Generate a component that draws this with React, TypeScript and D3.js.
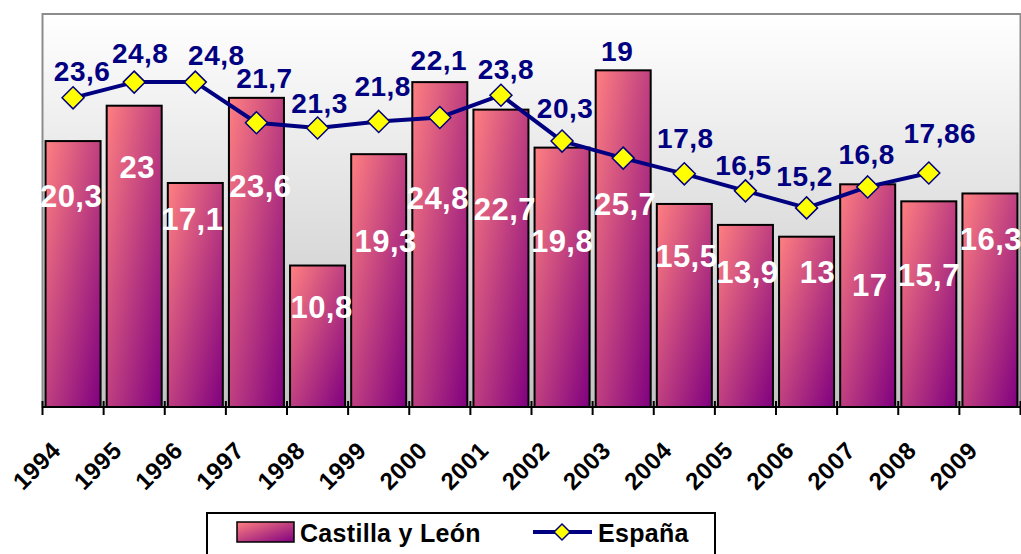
import * as d3 from "d3";

const years = ["1994", "1995", "1996", "1997", "1998", "1999", "2000", "2001", "2002", "2003", "2004", "2005", "2006", "2007", "2008", "2009"];
const castilla = [20.3, 23, 17.1, 23.6, 10.8, 19.3, 24.8, 22.7, 19.8, 25.7, 15.5, 13.9, 13, 17, 15.7, 16.3];
const espana = [23.6, 24.8, 24.8, 21.7, 21.3, 21.8, 22.1, 23.8, 20.3, 19, 17.8, 16.5, 15.2, 16.8, 17.86];

// label nudges (px) as they sit in the original chart
const barLabelDx = [-2, 3, -3, 4, 4, 7, -2, 4, 0, 2, 2, 2, 11, 2, 0, 1];
const barLabelDy = [66, 72, 47, 99, 52, 98, 127, 110, 104, 145, 63, 58, 46, 112, 85, 57];
const lineLabelDx = [9, 6, 21, 8, 2, 4, -1, 5, 3, -6, 1, -2, -2, -1, 11];
const lineLabelDy = [-17, -19, -17, -35, -15, -25, -47, -16, -23, -97, -26, -16, -22, -23, -30];

const W = 1021;
const H = 554;
const left = 42.5;
const right = 1020.5;
const top = 14;
const bottom = 407;
const font = "'Liberation Sans', Arial, sans-serif";
const navy = "#000080";

const fmt = (v: number) => String(v).replace(".", ",");

export default function App() {
  const x = d3.scaleBand<string>().domain(years).range([left, right]).paddingInner(0.1).paddingOuter(0.05);
  const y = d3.scaleLinear().domain([0, 30]).range([bottom, top]);
  const step = x.step();
  const bw = x.bandwidth();
  const cx = (d: string) => (x(d) as number) + bw / 2;

  const boundaries = years.map((d) => cx(d) - step / 2).concat([cx(years[years.length - 1]) + step / 2]);

  const line = d3
    .line<number>()
    .x((_, i) => cx(years[i]))
    .y((v) => y(v));

  const diamond = (px: number, py: number, r: number) =>
    `M${px},${py - r}L${px + r},${py}L${px},${py + r}L${px - r},${py}Z`;

  return (
    <svg width={W} height={H} style={{ position: "absolute", left: 0, top: 0 }} fontFamily={font}>
      <defs>
        <linearGradient id="bg" x1="0" y1="0" x2="0" y2="1">
          <stop offset="0" stopColor="#ffffff" />
          <stop offset="1" stopColor="#c2c2c2" />
        </linearGradient>
        <linearGradient id="bar" x1="0" y1="0" x2="1" y2="1">
          <stop offset="0" stopColor="#ff8080" />
          <stop offset="1" stopColor="#800080" />
        </linearGradient>
      </defs>
      <rect width={W} height={H} fill="#fff" />

      {/* plot area */}
      <rect x={left} y={top} width={right - left} height={bottom - top} fill="url(#bg)" stroke="#8c8c8c" strokeWidth={2} />

      {/* bars */}
      {castilla.map((v, i) => (
        <rect
          key={years[i]}
          x={x(years[i])}
          y={y(v)}
          width={bw}
          height={bottom - y(v)}
          fill="url(#bar)"
          stroke="#000"
          strokeWidth={2}
        />
      ))}

      {/* axis */}
      <line x1={left} x2={right} y1={bottom} y2={bottom} stroke="#000" strokeWidth={2} />
      {boundaries.map((b, i) => (
        <line key={i} x1={b} x2={b} y1={bottom - 6} y2={bottom + 8} stroke="#000" strokeWidth={2} />
      ))}
      {years.map((d) => (
        <text
          key={d}
          transform={`translate(${cx(d) - 11},${bottom + 45}) rotate(-45)`}
          textAnchor="end"
          fontSize={24}
          fontWeight="bold"
          letterSpacing={0.5}
          fill="#000"
        >
          {d}
        </text>
      ))}

      {/* bar labels */}
      {castilla.map((v, i) => (
        <text
          key={years[i]}
          x={cx(years[i]) + barLabelDx[i]}
          y={y(v) + barLabelDy[i]}
          textAnchor="middle"
          fontSize={31}
          fontWeight="bold"
          letterSpacing={0.5}
          fill="#fff"
        >
          {fmt(v)}
        </text>
      ))}

      {/* España line */}
      <path d={line(espana) ?? ""} fill="none" stroke={navy} strokeWidth={4} strokeLinejoin="round" />
      {espana.map((v, i) => (
        <path key={years[i]} d={diamond(cx(years[i]), y(v), 11)} fill="#ffff00" stroke={navy} strokeWidth={1.5} />
      ))}
      {espana.map((v, i) => (
        <text
          key={years[i]}
          x={cx(years[i]) + lineLabelDx[i]}
          y={y(v) + lineLabelDy[i]}
          textAnchor="middle"
          fontSize={28}
          fontWeight="bold"
          letterSpacing={0.5}
          fill={navy}
        >
          {fmt(v)}
        </text>
      ))}

      {/* legend */}
      <rect x={207} y={513} width={508} height={60} fill="#fff" stroke="#000" strokeWidth={2} />
      <rect x={237} y={522} width={57} height={20} fill="url(#bar)" stroke="#000" strokeWidth={1.5} />
      <text x={300} y={542} fontSize={25} fontWeight="bold" letterSpacing={0.3} fill="#000">
        Castilla y León
      </text>
      <line x1={533} x2={592} y1={532} y2={532} stroke={navy} strokeWidth={4} />
      <path d={diamond(562, 532, 8)} fill="#ffff00" stroke={navy} strokeWidth={1.5} />
      <text x={598} y={542} fontSize={25} fontWeight="bold" letterSpacing={0.3} fill="#000">
        España
      </text>
    </svg>
  );
}
